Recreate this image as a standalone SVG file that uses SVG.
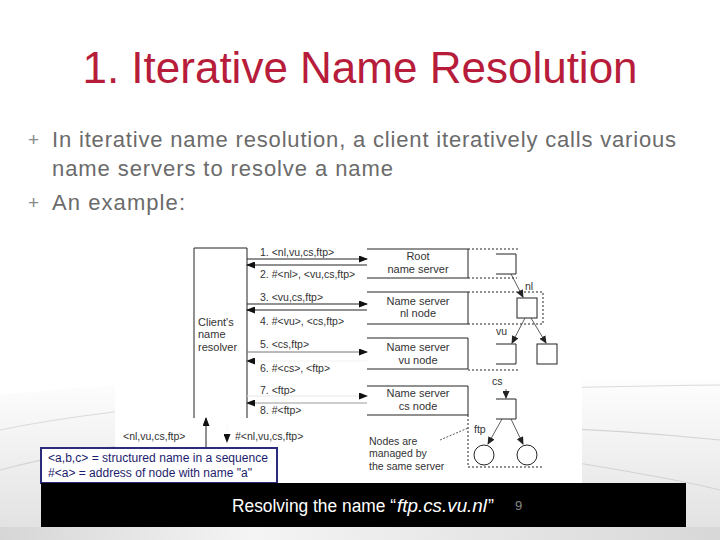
<svg xmlns="http://www.w3.org/2000/svg" width="720" height="540" viewBox="0 0 720 540">
<defs>
<linearGradient id="bg" x1="0" y1="0" x2="0" y2="1">
<stop offset="0" stop-color="#ffffff"/>
<stop offset="1" stop-color="#e0e0e0"/>
</linearGradient>
<linearGradient id="bot" x1="0" y1="0" x2="1" y2="0">
<stop offset="0" stop-color="#d6d6d6"/>
<stop offset="0.35" stop-color="#f4f4f4"/>
<stop offset="1" stop-color="#d8d8d8"/>
</linearGradient>
<marker id="ah" markerWidth="9" markerHeight="7" refX="8" refY="3.5" orient="auto" markerUnits="userSpaceOnUse">
<path d="M0,0 L9,3.5 L0,7 z" fill="#111"/>
</marker>
<marker id="ahs" markerWidth="8" markerHeight="7" refX="7" refY="3.5" orient="auto" markerUnits="userSpaceOnUse">
<path d="M0,0 L8,3.5 L0,7 z" fill="#222"/>
</marker>
<style>
.t{font-family:"Liberation Sans",Arial,Helvetica,sans-serif;}
.lab{font-family:"Liberation Sans",Arial,sans-serif;font-size:10.5px;fill:#333;}
.ns{font-family:"Liberation Sans",Arial,sans-serif;font-size:11px;fill:#333;text-anchor:middle;}
.cl{font-family:"Liberation Sans",Arial,sans-serif;font-size:11px;fill:#333;}
.box{fill:none;stroke:#222;stroke-width:1;}
.dot{fill:none;stroke:#222;stroke-width:1;stroke-dasharray:2,2;}
.msg{stroke:#222;stroke-width:1;marker-end:url(#ah);}
.tree{stroke:#333;stroke-width:0.8;marker-end:url(#ahs);}
.bul{font-family:"Liberation Sans",Arial,sans-serif;font-size:22px;fill:#6b6b6b;}
.plus{font-family:"Liberation Sans",Arial,sans-serif;font-size:19px;fill:#8a8a8a;}
</style>
</defs>

<!-- background -->
<rect x="0" y="0" width="720" height="540" fill="#ffffff"/>
<path d="M0,395 C150,378 400,370 720,376 L720,540 L0,540 Z" fill="url(#bg)"/>
<path d="M0,430 C120,405 300,390 720,385" fill="none" stroke="#dadada" stroke-width="1.2"/>
<path d="M0,470 C150,430 420,410 720,440" fill="none" stroke="#d4d4d4" stroke-width="1.2"/>
<path d="M560,460 C620,470 680,480 720,490" fill="none" stroke="#d2d2d2" stroke-width="1"/>
<rect x="0" y="527" width="720" height="13" fill="url(#bot)"/>

<!-- title -->
<text class="t" x="360" y="83" font-size="44" fill="#b71c3a" text-anchor="middle">1. Iterative Name Resolution</text>

<!-- bullets -->
<text class="plus" x="28" y="146">+</text>
<text class="bul" x="52" y="147" textLength="624" lengthAdjust="spacing">In iterative name resolution, a client iteratively calls various</text>
<text class="bul" x="52" y="176" textLength="341" lengthAdjust="spacing">name servers to resolve a name</text>
<text class="plus" x="28" y="209">+</text>
<text class="bul" x="52" y="210" textLength="133" lengthAdjust="spacing">An example:</text>

<!-- diagram background -->
<rect x="115" y="243" width="467" height="240" fill="#ffffff"/>

<!-- client resolver -->
<g id="client">
<path class="box" d="M194,418 L194,248 L247,248 L247,418"/>
<text class="cl" x="198" y="326">Client's</text>
<text class="cl" x="198" y="338">name</text>
<text class="cl" x="198" y="351">resolver</text>
</g>

<!-- name servers -->
<g id="root-server">
<path class="box" d="M367,249 L468,249 L468,278 L367,278"/>
<path class="dot" d="M468,249 L519,249 M468,278 L517,278"/>
<text class="ns" x="418" y="260">Root</text>
<text class="ns" x="418" y="273">name server</text>
</g>
<g id="nl-server">
<path class="box" d="M367,292 L468,292 L468,324 L367,324"/>
<path class="dot" d="M468,292 L543,292 L543,324 L468,324"/>
<text class="ns" x="418" y="305">Name server</text>
<text class="ns" x="418" y="317">nl node</text>
</g>
<g id="vu-server">
<path class="box" d="M367,338 L468,338 L468,369 L367,369"/>
<path class="dot" d="M468,370 L520,370"/>
<text class="ns" x="418" y="351">Name server</text>
<text class="ns" x="418" y="364">vu node</text>
</g>
<g id="cs-server">
<path class="box" d="M367,386 L468,386 L468,415 L367,415"/>
<path class="dot" d="M468,415 L468,467 L542,467"/>
<text class="ns" x="418" y="397">Name server</text>
<text class="ns" x="418" y="410">cs node</text>
</g>

<!-- tree nodes -->
<g id="node-root"><path class="box" d="M496,254 L516,254 L516,274 L496,274"/></g>
<g id="node-nl"><rect class="box" x="517" y="298" width="20" height="20"/></g>
<g id="node-vu"><path class="box" d="M496,344 L516,344 L516,364 L496,364"/></g>
<g id="node-nl2"><rect class="box" x="537" y="344" width="20" height="20"/></g>
<g id="node-cs"><path class="box" d="M496,399 L516,399 L516,419 L496,419"/></g>
<g id="node-ftp"><circle class="box" cx="484" cy="455" r="10"/></g>
<g id="node-cs2"><circle class="box" cx="527" cy="455" r="10"/></g>

<!-- tree labels -->
<text class="lab" x="525" y="290">nl</text>
<text class="lab" x="496" y="335">vu</text>
<text class="lab" x="492" y="385">cs</text>
<text class="lab" x="474" y="433">ftp</text>
<text class="lab" x="369" y="445">Nodes are</text>
<text class="lab" x="369" y="457">managed by</text>
<text class="lab" x="369" y="470">the same server</text>

<!-- message labels -->
<text class="lab" x="260" y="256">1. &lt;nl,vu,cs,ftp&gt;</text>
<text class="lab" x="260" y="278">2. #&lt;nl&gt;, &lt;vu,cs,ftp&gt;</text>
<text class="lab" x="260" y="301">3. &lt;vu,cs,ftp&gt;</text>
<text class="lab" x="260" y="325">4. #&lt;vu&gt;, &lt;cs,ftp&gt;</text>
<text class="lab" x="260" y="348">5. &lt;cs,ftp&gt;</text>
<text class="lab" x="260" y="372">6. #&lt;cs&gt;, &lt;ftp&gt;</text>
<text class="lab" x="260" y="394">7. &lt;ftp&gt;</text>
<text class="lab" x="260" y="414">8. #&lt;ftp&gt;</text>
<text class="lab" x="123" y="440">&lt;nl,vu,cs,ftp&gt;</text>
<text class="lab" x="235" y="440">#&lt;nl,vu,cs,ftp&gt;</text>

<!-- connectors -->
<g id="connectors">
<line class="msg" x1="247" y1="259" x2="367" y2="259"/>
<line class="msg" x1="367" y1="265" x2="247" y2="265"/>
<line class="msg" x1="247" y1="304" x2="367" y2="304"/>
<line class="msg" x1="367" y1="310" x2="247" y2="310"/>
<line class="msg" x1="247" y1="352" x2="367" y2="352" style="stroke:#777"/>
<line class="msg" x1="367" y1="361" x2="247" y2="361" style="stroke:#f2f2f2"/>
<line class="msg" x1="247" y1="396" x2="367" y2="396" style="stroke:#e6e6e6"/>
<line class="msg" x1="367" y1="403" x2="247" y2="403" style="stroke:#9a9a9a"/>
<line class="msg" x1="206" y1="447" x2="206" y2="418"/>
<line class="msg" x1="227" y1="425" x2="227" y2="442" style="stroke:#f4f4f4"/>
<line class="tree" x1="511" y1="274" x2="523" y2="297"/>
<line class="tree" x1="525" y1="318" x2="512" y2="343"/>
<line class="tree" x1="531" y1="318" x2="546" y2="343"/>
<line class="tree" x1="506" y1="389" x2="506" y2="398"/>
<line class="tree" x1="502" y1="419" x2="488" y2="444"/>
<line class="tree" x1="511" y1="419" x2="523" y2="444"/>
<line x1="440" y1="440" x2="468" y2="428" stroke="#333" stroke-width="0.8" stroke-dasharray="2,1.5"/>
</g>

<!-- legend -->
<g id="legend">
<rect x="41" y="448" width="236" height="35" fill="#ffffff" stroke="#2b2b7b" stroke-width="2"/>
<text class="t" x="48" y="462" font-size="12" fill="#1c1c6c" textLength="220" lengthAdjust="spacingAndGlyphs">&lt;a,b,c&gt; = structured name in a sequence</text>
<text class="t" x="48" y="477" font-size="12" fill="#1c1c6c" textLength="204" lengthAdjust="spacingAndGlyphs">#&lt;a&gt; = address of node with name "a"</text>
</g>

<!-- caption bar -->
<g id="caption">
<rect x="41" y="483" width="645" height="44" fill="#000000"/>
<text class="t" x="232" y="512" font-size="18" fill="#ffffff" textLength="164" lengthAdjust="spacingAndGlyphs">Resolving the name “</text>
<text class="t" x="397" y="512" font-size="18" font-style="italic" fill="#ffffff" textLength="90" lengthAdjust="spacingAndGlyphs">ftp.cs.vu.nl</text>
<text class="t" x="488" y="512" font-size="18" fill="#ffffff">”</text>
<text class="t" x="515" y="510" font-size="13" fill="#8a8a8a">9</text>
</g>
</svg>
